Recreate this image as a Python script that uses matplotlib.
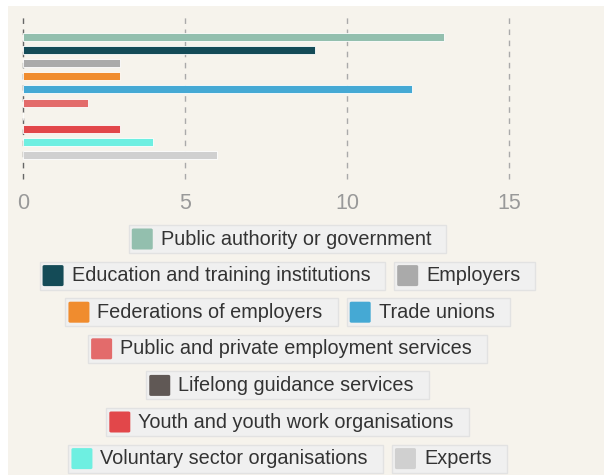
import matplotlib
matplotlib.use("Agg")
import matplotlib.pyplot as plt
from matplotlib.patches import Rectangle, FancyBboxPatch

# donnees
categories = ["Public authority or government", "Education and training institutions", "Employers",
              "Federations of employers", "Trade unions", "Public and private employment services",
              "Lifelong guidance services", "Youth and youth work organisations",
              "Voluntary sector organisations", "Experts"]
valeurs = [13, 9, 3, 3, 12, 2, 0, 3, 4, 6]
couleurs = ["#93BFAE", "#144B57", "#AAAAAA", "#F08C2E", "#45A9D4", "#E36B6B",
            "#605855", "#E2474A", "#6EEFE1", "#D0D0D0"]
xticks = [0, 5, 10, 15]
# regroupement des entrees de legende par ligne
lignes_legende = [[0], [1, 2], [3, 4], [5], [6], [7], [8, 9]]

W, H = 604, 475
plt.rcParams['font.family'] = ['Liberation Sans', 'DejaVu Sans']
fig = plt.figure(figsize=(W / 100, H / 100), dpi=100)
fig.patch.set_facecolor("white")
fond = "#F6F3EC"
fig.patches.append(Rectangle((8 / W, 0), 1, 1 - 6 / H, transform=fig.transFigure,
                             facecolor=fond, edgecolor="none", zorder=-10))

def px(x, y):  # pixels -> coordonnees figure
    return x / W, 1 - y / H

ax = fig.add_axes([23 / W, 1 - 179 / H, 486 / W, 162 / H])
ax.set_facecolor("none")
pos = list(range(len(categories)))
ax.barh(pos, valeurs, height=0.6, color=couleurs, edgecolor="white", linewidth=0.6, zorder=3)
ax.set_xlim(0, 15)
ax.set_ylim(len(categories) - 1 + 1.8, -1.5)
ax.set_xticks(xticks)
ax.set_yticks([])
for s in ax.spines.values():
    s.set_visible(False)
ax.tick_params(axis="x", length=0, pad=10, labelsize=15.5, labelcolor="#999999")
for t in xticks:
    ax.axvline(t, color="#666666" if t == 0 else "#AAAAAA", linestyle=(0, (4, 4)),
               linewidth=1, zorder=1, clip_on=False)

# legende : une boite par entree, lignes centrees
fig.canvas.draw()
rend = fig.canvas.get_renderer()
taille = 14.3
centre_x = 287.5
y0, dy = 239, 36.6
for r, ligne in enumerate(lignes_legende):
    yc = y0 + r * dy
    largeurs = []
    for i in ligne:
        t = fig.text(0, 0, categories[i], fontsize=taille)
        largeurs.append(t.get_window_extent(rend).width)
        t.remove()
    boites = [3 + 21 + 8 + w + 15 for w in largeurs]
    total = sum(boites) + 9 * (len(boites) - 1)
    x = centre_x - total / 2
    for i, w, b in zip(ligne, largeurs, boites):
        bx, by = px(x, yc + 14)
        fig.patches.append(Rectangle((bx, by), b / W, 28 / H, transform=fig.transFigure,
                                     facecolor="#F0F0F0", edgecolor="#E2E2E2", linewidth=1))
        sx, sy = px(x + 3, yc + 10.5)
        fig.patches.append(FancyBboxPatch((sx, sy), 21 / W, 21 / H, transform=fig.transFigure,
                                          boxstyle="round,pad=0,rounding_size=0.003",
                                          facecolor=couleurs[i], edgecolor="none"))
        tx, ty = px(x + 32, yc)
        fig.text(tx, ty, categories[i], fontsize=taille, color="#333333", va="center")
        x += b + 9

fig.savefig("out.png", dpi=100)
